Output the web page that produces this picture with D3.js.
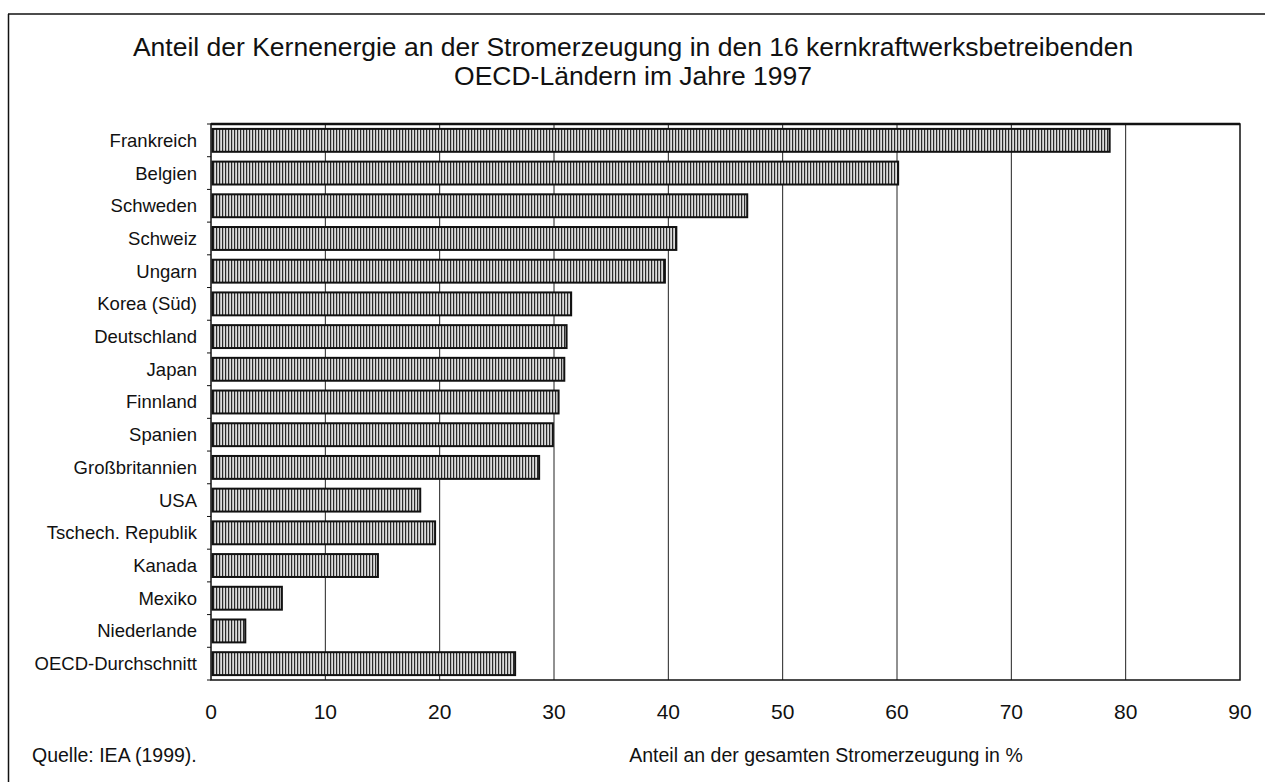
<!DOCTYPE html>
<html><head><meta charset="utf-8">
<script src="https://cdn.jsdelivr.net/npm/d3@7"></script>
<style>body{margin:0;background:#fff;} svg{display:block;} text{font-family:"Liberation Sans",Arial,sans-serif;fill:#111;}</style>
</head><body>
<svg id="c" width="1265" height="782"></svg>
<script>
const categories = ["Frankreich","Belgien","Schweden","Schweiz","Ungarn","Korea (Süd)","Deutschland","Japan","Finnland","Spanien","Großbritannien","USA","Tschech. Republik","Kanada","Mexiko","Niederlande","OECD-Durchschnitt"];
const values = [78.6,60.1,46.9,40.7,39.7,31.5,31.1,30.9,30.4,29.9,28.7,18.3,19.6,14.6,6.2,3.0,26.6];
const xTicks = [0,10,20,30,40,50,60,70,80,90];
const titleLines = ["Anteil der Kernenergie an der Stromerzeugung in den 16 kernkraftwerksbetreibenden","OECD-Ländern im Jahre 1997"];
const xTitle = "Anteil an der gesamten Stromerzeugung in %";
const source = "Quelle: IEA (1999).";

const svg = d3.select("#c");
const m = {left:211, right:1240, top:124, bottom:680};

// outer frame (top & left visible)
svg.append("line").attr("x1",8).attr("x2",1265).attr("y1",14).attr("y2",14).attr("stroke","#111").attr("stroke-width",1.5);
svg.append("line").attr("x1",8.5).attr("x2",8.5).attr("y1",14).attr("y2",782).attr("stroke","#111").attr("stroke-width",1.5);

// pattern
const defs = svg.append("defs");
const pat = defs.append("pattern").attr("id","hatch").attr("patternUnits","userSpaceOnUse").attr("width",3).attr("height",10);
pat.append("rect").attr("width",3).attr("height",10).attr("fill","#dcdcdc");
pat.append("rect").attr("x",0).attr("width",1.2).attr("height",10).attr("fill","#2a2a2a");

const x = d3.scaleLinear().domain([0,90]).range([m.left,m.right]);
const y = d3.scaleBand().domain(categories).range([m.top,m.bottom]).paddingInner(0.3).paddingOuter(0.15);

// title
svg.append("text").attr("text-anchor","middle").attr("font-size",26.5)
  .selectAll("tspan").data(titleLines).join("tspan").attr("x",633).attr("y",(d,i)=>56+i*28.5).text(d=>d);

// gridlines
svg.append("g").selectAll("line").data(xTicks.slice(1,-1)).join("line")
  .attr("x1",d=>x(d)).attr("x2",d=>x(d)).attr("y1",m.top).attr("y2",m.bottom)
  .attr("stroke","#222").attr("stroke-width",1);

// bars
svg.append("g").selectAll("rect").data(categories).join("rect")
  .attr("x",x(0)+1.5).attr("y",d=>y(d)).attr("width",(d,i)=>x(values[i])-x(0)-1.5).attr("height",y.bandwidth())
  .attr("fill","url(#hatch)").attr("stroke","#111").attr("stroke-width",2);

// plot frame
svg.append("rect").attr("x",m.left).attr("y",m.top).attr("width",m.right-m.left).attr("height",m.bottom-m.top)
  .attr("fill","none").attr("stroke","#111").attr("stroke-width",1.5);
svg.append("line").attr("x1",m.left).attr("x2",m.right).attr("y1",m.top).attr("y2",m.top).attr("stroke","#111").attr("stroke-width",2.5);

// left ticks at band boundaries
const bounds = categories.map((c,i)=>m.top + i*(m.bottom-m.top)/categories.length).concat([m.bottom]);
svg.append("g").selectAll("line").data(bounds).join("line")
  .attr("x1",m.left-4).attr("x2",m.left).attr("y1",d=>d).attr("y2",d=>d).attr("stroke","#111").attr("stroke-width",1);

// y labels
svg.append("g").selectAll("text").data(categories).join("text")
  .attr("x",197).attr("y",d=>y(d)+y.bandwidth()/2).attr("dy","0.35em").attr("text-anchor","end").attr("font-size",18.5).text(d=>d);

// x labels
svg.append("g").selectAll("text").data(xTicks).join("text")
  .attr("x",d=>x(d)).attr("y",719).attr("text-anchor","middle").attr("font-size",21).text(d=>d);

svg.append("text").attr("x",826).attr("y",762).attr("text-anchor","middle").attr("font-size",19.5).text(xTitle);
svg.append("text").attr("x",32).attr("y",762).attr("font-size",19.5).text(source);
</script>
</body></html>
